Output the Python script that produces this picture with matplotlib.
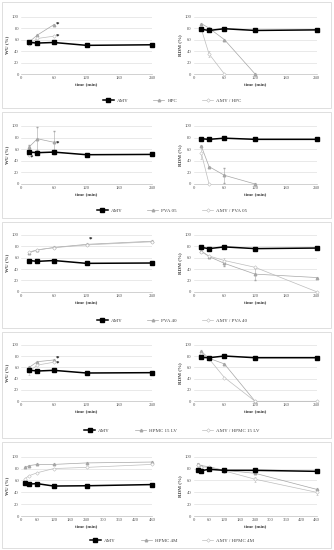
import matplotlib
matplotlib.use("Agg")
import matplotlib.pyplot as plt
from matplotlib.patches import Rectangle
from matplotlib.lines import Line2D

# ---------------- data ----------------
t4 = [15, 30, 60, 120, 240]
t5 = [15, 30, 60, 120, 240, 480]

# Row 1: HPC
amy_wu_1 = [55, 54, 55, 50, 51]
amy_rdm_1 = [78, 76, 79, 76, 77]
hpc_wu_t = [15, 30, 60]
hpc_wu = [56, 68, 86]
amyhpc_wu = [52, 62, 66]
hpc_rdm_t = [15, 30, 60, 120]
hpc_rdm = [88, 80, 60, 0]
amyhpc_rdm_t = [15, 30, 60]
amyhpc_rdm = [78, 35, 0]

# Row 2: PVA 05
amy_wu_2 = [55, 54, 55, 50.5, 51]
amy_rdm_2 = [78, 77, 79, 77, 77]
pva05_wu_t = [15, 30, 60]
pva05_wu = [64, 78, 72]
pva05_wu_err = [4, 20, 20]
amypva05_wu_t = [15]
amypva05_wu = [50]
pva05_rdm_t = [15, 30, 60, 120]
pva05_rdm = [65, 30, 15, 0]
pva05_rdm_err = [0, 0, 13, 0]
amypva05_rdm_t = [15, 30]
amypva05_rdm = [53, 0]

# Row 3: PVA 40
amy_wu_3 = [55, 53.5, 55, 50, 50.6]
amy_rdm_3 = [78, 76, 79, 76, 77]
pva40_wu = [69, 73.5, 78, 83.5, 89]
amypva40_wu = [70, 74, 77.5, 82.5, 88]
pva40_rdm = [72, 62, 50, 31, 25]
amypva40_rdm = [70, 63, 55, 43, 0]

# Row 4: HPMC 15 LV
amy_wu_4 = [55, 53.5, 54.7, 50, 50.6]
amy_rdm_4 = [77.5, 77, 80, 77, 77]
hpmc15_wu_t = [15, 30, 60]
hpmc15_wu = [60, 70, 73]
amyhpmc15_wu = [53, 64, 69]
hpmc15_rdm_t = [15, 30, 60, 120]
hpmc15_rdm = [88, 76, 66, 0]
amyhpmc15_rdm_t = [15, 30, 60, 120, 240]
amyhpmc15_rdm = [84, 75, 42, 0, 0]

# Row 5: HPMC 4M
amy_wu_5 = [55, 54, 54.5, 50.5, 51, 53]
amy_rdm_5 = [77, 76.5, 78.7, 77, 77, 75.3]
hpmc4m_wu = [82, 85, 87, 87, 89.5, 91]
amyhpmc4m_wu = [63, 68, 73, 80, 82, 87]
hpmc4m_rdm = [88, 85, 83, 77, 72, 45]
amyhpmc4m_rdm = [86, 83, 82, 76, 62, 40]

polymers = ["HPC", "PVA 05", "PVA 40", "HPMC 15 LV", "HPMC 4M"]
yticks = [0, 20, 40, 60, 80, 100]
xticks_240 = [0, 60, 120, 180, 240]
xticks_480 = [0, 60, 120, 180, 240, 300, 360, 420, 480]

# asterisk annotations (time, value)
stars_wu = [[(67, 87), (67, 67)], [(20, 47), (67, 71)], [(127, 92)], [(67, 77), (67, 68)], []]

# ---------------- figure ----------------
W, H = 334, 550
fig = plt.figure(figsize=(W / 100, H / 100), dpi=100)
fig.patch.set_facecolor("white")
plt.rcParams["font.family"] = ["Liberation Serif", "DejaVu Serif"]

def fx(px):
    return px / W

def fy(py):
    return 1 - py / H

C_POLY = "#a6a6a6"
C_MIX = "#bdbdbd"
TICK_FS = 3.4
LAB_FS = 3.6

row_geom = [
    (74, 16.7), (184, 126), (291.7, 235), (401.3, 344.7), (516, 456.7)
]

def setup_ax(ax, xticks, xmax, ylabel):
    ax.set_xlim(0, xmax)
    ax.set_ylim(0, 100)
    ax.set_xticks(xticks)
    ax.set_yticks(yticks)
    ax.tick_params(labelsize=TICK_FS, length=0, pad=1.5, colors="#595959")
    for s in ["left", "top", "right"]:
        ax.spines[s].set_visible(False)
    ax.spines["bottom"].set_color("#bfbfbf")
    ax.spines["bottom"].set_linewidth(0.5)
    ax.grid(axis="y", color="#d9d9d9", linewidth=0.4)
    ax.set_axisbelow(True)
    ax.set_xlabel("time (min)", fontsize=LAB_FS, fontweight="bold", labelpad=1.5, color="#404040")
    ax.set_ylabel(ylabel, fontsize=LAB_FS, fontweight="bold", labelpad=2, color="#404040")

def plot_amy(ax, t, y):
    ax.plot(t, y, color="black", lw=1.1, marker="s", ms=2.3, clip_on=False, zorder=5)

def plot_poly(ax, t, y, err=None):
    ax.errorbar(t, y, yerr=err, color=C_POLY, lw=0.5, marker="^", ms=1.8,
                elinewidth=0.4, capsize=0.8, clip_on=False, zorder=4)

def plot_mix(ax, t, y, err=None):
    ax.errorbar(t, y, yerr=err, color=C_MIX, lw=0.5, marker="D", ms=1.8, mfc="white",
                mew=0.4, elinewidth=0.4, capsize=0.8, clip_on=False, zorder=4)

rows = [
    dict(t=t4, amy_wu=amy_wu_1, amy_rdm=amy_rdm_1,
         pwu=(hpc_wu_t, hpc_wu, None), mwu=(hpc_wu_t, amyhpc_wu, None),
         prdm=(hpc_rdm_t, hpc_rdm, None), mrdm=(amyhpc_rdm_t, amyhpc_rdm, [0, 6, 0])),
    dict(t=t4, amy_wu=amy_wu_2, amy_rdm=amy_rdm_2,
         pwu=(pva05_wu_t, pva05_wu, pva05_wu_err), mwu=(amypva05_wu_t, amypva05_wu, None),
         prdm=(pva05_rdm_t, pva05_rdm, pva05_rdm_err), mrdm=(amypva05_rdm_t, amypva05_rdm, [10, 0])),
    dict(t=t4, amy_wu=amy_wu_3, amy_rdm=amy_rdm_3,
         pwu=(t4, pva40_wu, None), mwu=(t4, amypva40_wu, None),
         prdm=(t4, pva40_rdm, [0, 0, 4, 10, 0]), mrdm=(t4, amypva40_rdm, [0, 0, 5, 0, 0])),
    dict(t=t4, amy_wu=amy_wu_4, amy_rdm=amy_rdm_4,
         pwu=(hpmc15_wu_t, hpmc15_wu, None), mwu=(hpmc15_wu_t, amyhpmc15_wu, [6, 0, 0]),
         prdm=(hpmc15_rdm_t, hpmc15_rdm, None), mrdm=(amyhpmc15_rdm_t, amyhpmc15_rdm, None)),
    dict(t=t5, amy_wu=amy_wu_5, amy_rdm=amy_rdm_5,
         pwu=(t5, hpmc4m_wu, None), mwu=(t5, amyhpmc4m_wu, None),
         prdm=(t5, hpmc4m_rdm, None), mrdm=(t5, amyhpmc4m_rdm, [3, 0, 0, 3, 4, 5])),
]

for i, r in enumerate(rows):
    top = i * 110
    y0, y100 = row_geom[i]
    # frame
    fig.patches.append(Rectangle((fx(2), fy(top + 108)), fx(329), (106) / H,
                                 transform=fig.transFigure, fill=False,
                                 edgecolor="#d9d9d9", lw=0.6))
    xmax = 480 if i == 4 else 240
    xt = xticks_480 if i == 4 else xticks_240
    axl = fig.add_axes([fx(21), fy(y0), fx(152 - 21), (y0 - y100) / H])
    axr = fig.add_axes([fx(193.7), fy(y0), fx(316.5 - 193.7), (y0 - y100) / H])
    setup_ax(axl, xt, xmax, "WU (%)")
    setup_ax(axr, xt, xmax, "RDM (%)")

    plot_amy(axl, r["t"], r["amy_wu"])
    plot_poly(axl, *r["pwu"])
    plot_mix(axl, *r["mwu"])
    for (tx, ty) in stars_wu[i]:
        axl.text(tx, ty, "*", fontsize=5, fontweight="bold", ha="center", va="center", color="black")

    plot_amy(axr, r["t"], r["amy_rdm"])
    plot_poly(axr, *r["prdm"])
    plot_mix(axr, *r["mrdm"])

    handles = [
        Line2D([], [], color="black", lw=1.1, marker="s", ms=2.3),
        Line2D([], [], color=C_POLY, lw=0.5, marker="^", ms=1.8),
        Line2D([], [], color=C_MIX, lw=0.5, marker="D", ms=1.8, mfc="white", mew=0.4),
    ]
    labels = ["AMY", polymers[i], "AMY / " + polymers[i]]
    fig.legend(handles, labels, loc="center", bbox_to_anchor=(fx(172), fy(top + 100.5)),
               ncol=3, frameon=False, fontsize=LAB_FS, handlelength=2.2,
               columnspacing=5, handletextpad=0.6, borderpad=0, labelcolor="#404040")

fig.savefig("out.png", dpi=100)
